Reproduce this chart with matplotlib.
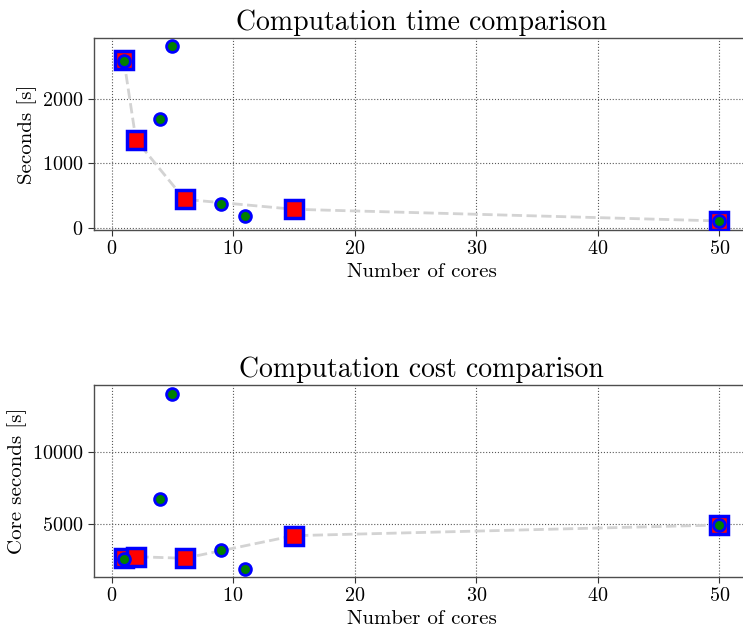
import matplotlib
matplotlib.use("Agg")
import matplotlib.pyplot as plt

plt.rcParams['font.family'] = ['cmr10', 'DejaVu Serif']
plt.rcParams['mathtext.fontset'] = 'cm'
plt.rcParams['axes.formatter.use_mathtext'] = True

# series A (red squares, joined by dashed line)
cores_a = [1, 2, 6, 15, 50]
time_a = [2620, 1370, 442, 287, 105]
cost_a = [2660, 2750, 2640, 4210, 4950]

# series B (green circles)
cores_b = [1, 5, 4, 9, 11, 50]
time_b = [2600, 2830, 1688, 364, 182, 105]
cost_b = [2620, 14050, 6740, 3190, 1920, 4950]

titles = ["Computation time comparison", "Computation cost comparison"]
ylabels = ["Seconds [s]", "Core seconds [s]"]
xlabel = "Number of cores"

W, H = 743, 633
fig = plt.figure(figsize=(W / 100, H / 100), dpi=100)
# the original was cropped on the right, so the axes run past the edge
ax1 = fig.add_axes([94 / W, 1 - 230 / H, 655 / W, 192 / H])
ax2 = fig.add_axes([94 / W, 1 - 577 / H, 655 / W, 192 / H])


def draw(ax, ya, yb, title, ylabel, ylim, yticks):
    ax.plot(cores_a, ya, linestyle='--', color='#d3d3d3', lw=2, zorder=2)
    ax.plot(cores_a, ya, linestyle='none', marker='s', markersize=13,
            markerfacecolor='red', markeredgecolor='blue', markeredgewidth=2.5, zorder=3)
    ax.plot(cores_b, yb, linestyle='none', marker='o', markersize=8.5,
            markerfacecolor='green', markeredgecolor='blue', markeredgewidth=2, zorder=4)
    ax.set_xlim(-1.45, 52.45)
    ax.set_ylim(*ylim)
    ax.set_xticks([0, 10, 20, 30, 40, 50])
    ax.set_yticks(yticks)
    ax.grid(True, linestyle=':', color='0.35', linewidth=0.8)
    ax.set_axisbelow(True)
    for s in ax.spines.values():
        s.set_color('0.3')
        s.set_linewidth(1.0)
    ax.tick_params(labelsize=14.5, length=4, color='0.2')
    ax.set_title(title, fontsize=20, pad=6)
    ax.set_ylabel(ylabel, fontsize=15, labelpad=4)
    ax.set_xlabel(xlabel, fontsize=15, labelpad=3)


draw(ax1, time_a, time_b, titles[0], ylabels[0], (-36, 2955), [0, 1000, 2000])
draw(ax2, cost_a, cost_b, titles[1], ylabels[1], (1340, 14670), [5000, 10000])

fig.savefig("out.png", dpi=100)
